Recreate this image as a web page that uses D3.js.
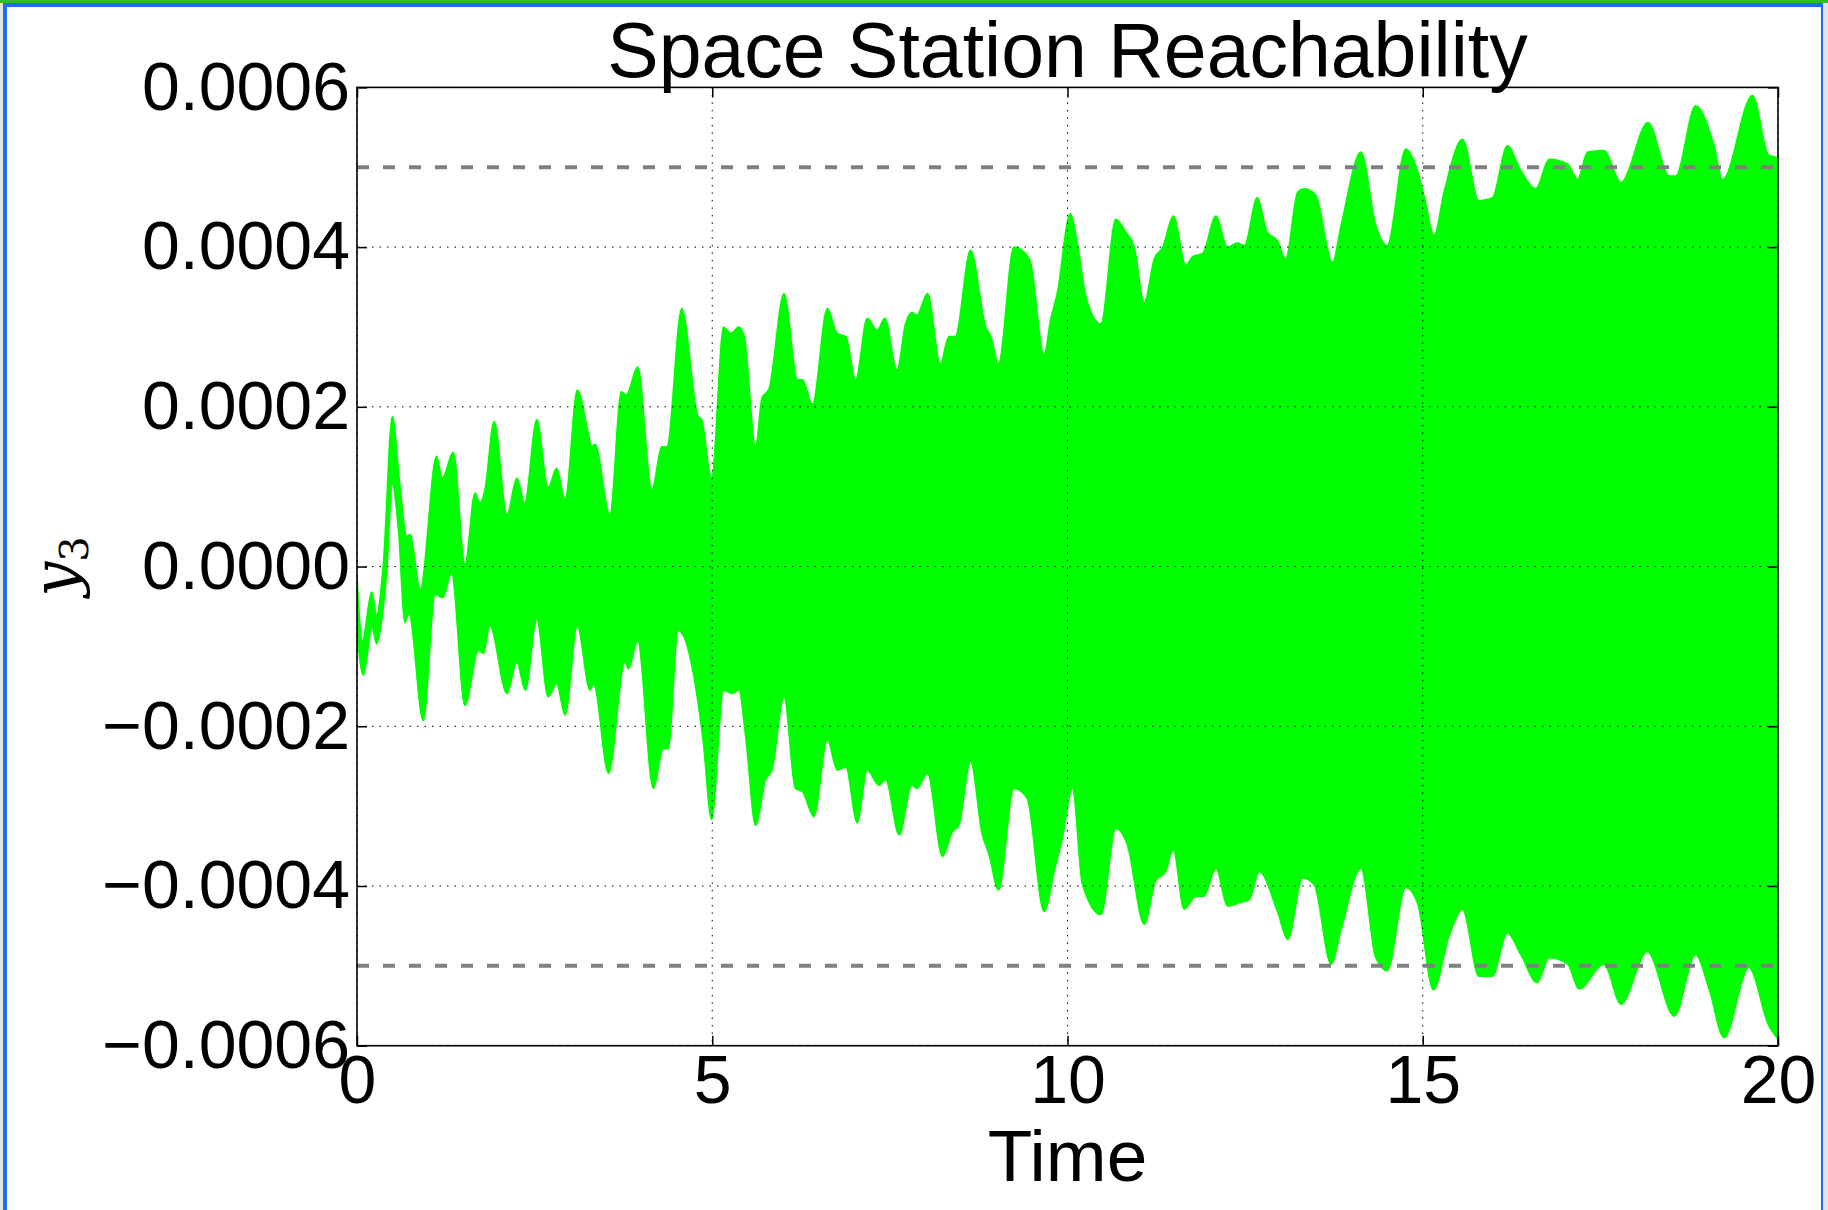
<!DOCTYPE html>
<html><head><meta charset="utf-8">
<script src="https://cdn.jsdelivr.net/npm/d3@7"></script>
<style>
html,body{margin:0;padding:0;background:#fff;overflow:hidden;}
svg{display:block;}
</style></head><body>
<svg id="chart" width="1828" height="1210"></svg>
<script>
// ---------- data ----------
const chartTitle = "Space Station Reachability";
const xLabel = "Time";
const xTicks = [0, 5, 10, 15, 20];
const xTickLabels = ["0", "5", "10", "15", "20"];
const yTicks = [-0.0006, -0.0004, -0.0002, 0, 0.0002, 0.0004, 0.0006];
const yTickLabels = ["\u22120.0006", "\u22120.0004", "\u22120.0002", "0.0000", "0.0002", "0.0004", "0.0006"];
const limitLines = [0.0005, -0.0005];
const xDomain = [0, 20];
const yDomain = [-0.0006, 0.0006];

// upper envelope of the reachable set: [time, y3]
const upperEnvelope = [
 [0,-0.12e-4],[0.075,-0.93e-4],[0.206,-0.32e-4],[0.277,-0.6e-4],[0.37,0.03e-4],[0.497,1.88e-4],
 [0.605,1.01e-4],[0.70,0.38e-4],[0.746,0.40e-4],[0.89,-0.28e-4],[1.12,1.38e-4],[1.20,1.11e-4],
 [1.355,1.43e-4],[1.52,0.03e-4],[1.66,0.92e-4],[1.73,0.80e-4],[1.80,0.96e-4],[1.93,1.82e-4],
 [2.11,0.65e-4],[2.25,1.11e-4],[2.36,0.80e-4],[2.53,1.84e-4],[2.69,0.99e-4],[2.81,1.23e-4],
 [2.93,0.84e-4],[3.10,2.21e-4],[3.26,1.65e-4],[3.30,1.50e-4],[3.35,1.53e-4],[3.56,0.65e-4],
 [3.72,2.19e-4],[3.79,2.15e-4],[3.95,2.50e-4],[4.15,0.96e-4],[4.29,1.50e-4],[4.36,1.50e-4],
 [4.57,3.23e-4],[4.80,1.88e-4],[4.85,1.84e-4],[4.99,1.10e-4],[5.16,3.00e-4],[5.26,2.92e-4],
 [5.375,3.00e-4],[5.45,2.88e-4],[5.61,1.50e-4],[5.70,2.11e-4],[5.80,2.23e-4],[6.01,3.42e-4],
 [6.20,2.34e-4],[6.27,2.34e-4],[6.41,2.03e-4],[6.62,3.23e-4],[6.76,2.92e-4],[6.88,2.88e-4],
 [7.02,2.34e-4],[7.18,3.11e-4],[7.32,2.96e-4],[7.43,3.11e-4],[7.60,2.46e-4],[7.72,3.04e-4],
 [7.81,3.18e-4],[7.88,3.15e-4],[8.03,3.42e-4],[8.21,2.54e-4],[8.33,2.88e-4],[8.42,2.88e-4],
 [8.635,3.96e-4],[8.85,3.00e-4],[8.92,2.88e-4],[9.03,2.54e-4],[9.245,4.00e-4],[9.41,3.92e-4],
 [9.48,3.81e-4],[9.67,2.65e-4],[9.76,3.08e-4],[9.855,3.42e-4],[10.04,4.42e-4],[10.14,4.04e-4],
 [10.26,3.38e-4],[10.47,3.04e-4],[10.68,4.35e-4],[10.82,4.19e-4],[10.94,4.00e-4],[11.08,3.31e-4],
 [11.22,3.85e-4],[11.34,4.00e-4],[11.49,4.39e-4],[11.665,3.77e-4],[11.76,3.88e-4],[11.90,3.92e-4],
 [12.09,4.39e-4],[12.25,4.00e-4],[12.39,4.05e-4],[12.49,4.02e-4],[12.67,4.62e-4],[12.81,4.19e-4],
 [12.955,4.08e-4],[13.07,3.85e-4],[13.24,4.69e-4],[13.33,4.73e-4],[13.49,4.66e-4],[13.73,3.81e-4],
 [13.85,4.27e-4],[14.13,5.19e-4],[14.34,4.27e-4],[14.50,4.02e-4],[14.76,5.23e-4],[14.925,4.96e-4],
 [15.03,4.60e-4],[15.16,4.15e-4],[15.30,4.69e-4],[15.56,5.35e-4],[15.79,4.58e-4],[15.98,4.62e-4],
 [16.19,5.27e-4],[16.38,4.96e-4],[16.59,4.73e-4],[16.78,5.10e-4],[17.04,5.04e-4],[17.18,4.85e-4],
 [17.32,5.19e-4],[17.55,5.21e-4],[17.79,4.81e-4],[18.17,5.56e-4],[18.47,4.89e-4],[18.56,4.89e-4],
 [18.84,5.77e-4],[19.10,5.27e-4],[19.22,4.85e-4],[19.64,5.90e-4],[19.87,5.15e-4],[20.0,5.12e-4]
];

// lower envelope of the reachable set: [time, y3]
const lowerEnvelope = [
 [0,-0.85e-4],[0.089,-1.36e-4],[0.16,-1.01e-4],[0.206,-0.74e-4],[0.277,-0.97e-4],[0.35,-0.66e-4],
 [0.42,-0.05e-4],[0.497,1.03e-4],[0.58,0.49e-4],[0.675,-0.70e-4],[0.73,-0.59e-4],[0.933,-1.93e-4],
 [1.10,-0.35e-4],[1.21,-0.39e-4],[1.33,-0.08e-4],[1.52,-1.74e-4],[1.71,-1.05e-4],[1.78,-1.09e-4],
 [1.87,-0.74e-4],[2.11,-1.59e-4],[2.25,-1.20e-4],[2.37,-1.55e-4],[2.53,-0.66e-4],[2.69,-1.63e-4],
 [2.81,-1.47e-4],[2.93,-1.86e-4],[3.10,-0.74e-4],[3.28,-1.55e-4],[3.33,-1.47e-4],[3.54,-2.59e-4],
 [3.77,-1.20e-4],[3.82,-1.28e-4],[3.95,-0.93e-4],[4.17,-2.78e-4],[4.31,-2.28e-4],[4.38,-2.28e-4],
 [4.52,-0.80e-4],[4.87,-2.17e-4],[4.99,-3.17e-4],[5.16,-1.55e-4],[5.28,-1.59e-4],[5.375,-1.55e-4],
 [5.47,-2.13e-4],[5.61,-3.24e-4],[5.75,-2.67e-4],[5.84,-2.55e-4],[6.01,-1.63e-4],[6.17,-2.78e-4],
 [6.27,-2.82e-4],[6.43,-3.13e-4],[6.62,-2.17e-4],[6.76,-2.55e-4],[6.88,-2.51e-4],[7.04,-3.21e-4],
 [7.18,-2.55e-4],[7.35,-2.74e-4],[7.44,-2.67e-4],[7.63,-3.36e-4],[7.81,-2.74e-4],[7.88,-2.78e-4],
 [8.03,-2.59e-4],[8.24,-3.63e-4],[8.38,-3.32e-4],[8.47,-3.24e-4],[8.635,-2.44e-4],[8.80,-3.36e-4],
 [8.89,-3.59e-4],[9.03,-4.05e-4],[9.245,-2.78e-4],[9.43,-2.90e-4],[9.67,-4.32e-4],[9.83,-3.75e-4],
 [9.92,-3.44e-4],[10.07,-2.78e-4],[10.21,-3.98e-4],[10.47,-4.36e-4],[10.68,-3.28e-4],[10.84,-3.48e-4],
 [11.08,-4.48e-4],[11.24,-3.94e-4],[11.38,-3.82e-4],[11.49,-3.55e-4],[11.64,-4.29e-4],[11.81,-4.13e-4],
 [11.92,-4.13e-4],[12.09,-3.78e-4],[12.25,-4.25e-4],[12.42,-4.21e-4],[12.56,-4.17e-4],[12.70,-3.82e-4],
 [12.955,-4.32e-4],[13.10,-4.67e-4],[13.31,-3.90e-4],[13.47,-3.98e-4],[13.71,-4.98e-4],[13.85,-4.55e-4],
 [14.13,-3.78e-4],[14.34,-4.90e-4],[14.50,-5.06e-4],[14.76,-4.02e-4],[14.925,-4.21e-4],[15.15,-5.30e-4],
 [15.37,-4.63e-4],[15.56,-4.29e-4],[15.79,-5.13e-4],[15.98,-5.13e-4],[16.19,-4.59e-4],[16.38,-4.86e-4],
 [16.61,-5.21e-4],[16.78,-4.90e-4],[17.04,-4.98e-4],[17.20,-5.29e-4],[17.55,-4.98e-4],[17.79,-5.48e-4],
 [18.16,-4.82e-4],[18.54,-5.63e-4],[18.84,-4.86e-4],[19.03,-5.29e-4],[19.24,-5.90e-4],[19.59,-5.02e-4],
 [19.87,-5.75e-4],[20.0,-5.92e-4]
];

// ---------- layout ----------
const W = 1828, H = 1210;
const plot = {left: 357, right: 1778, top: 87.4, bottom: 1045.7};
const FONT = "'Liberation Sans', Arial, Helvetica, sans-serif";

const svg = d3.select("#chart");

// window frame
svg.append("rect").attr("x",0).attr("y",0).attr("width",4).attr("height",H).attr("fill","#e4e4e4");
svg.append("rect").attr("x",W-5).attr("y",0).attr("width",5).attr("height",H).attr("fill","#e4e4e4");
svg.append("rect").attr("x",0).attr("y",0).attr("width",W).attr("height",3).attr("fill","#33bb2e");
svg.append("rect").attr("x",3).attr("y",3).attr("width",W-8).attr("height",4).attr("fill","#1a6dff");
svg.append("rect").attr("x",3).attr("y",3).attr("width",4).attr("height",H-3).attr("fill","#1a6dff");
svg.append("rect").attr("x",W-7).attr("y",3).attr("width",2).attr("height",H-3).attr("fill","#1a6dff");

const x = d3.scaleLinear().domain(xDomain).range([plot.left, plot.right]);
const y = d3.scaleLinear().domain(yDomain).range([plot.bottom, plot.top]);

svg.append("defs").append("clipPath").attr("id","clip")
  .append("rect").attr("x",plot.left).attr("y",plot.top)
  .attr("width",plot.right-plot.left).attr("height",plot.bottom-plot.top);

// reachable band: upper envelope forward, lower envelope back
const line = d3.line().x(d => x(d[0])).y(d => y(d[1])).curve(d3.curveMonotoneX);
const upPath = line(upperEnvelope);
const lowPath = line(lowerEnvelope.slice().reverse());
svg.append("path")
  .attr("clip-path","url(#clip)")
  .attr("d", upPath + "L" + lowPath.slice(1) + "Z")
  .attr("fill","#00ff00").attr("stroke","#00ff00").attr("stroke-width",1.5)
  .attr("stroke-linejoin","round");

// grid
const grid = svg.append("g");
grid.selectAll(".gx").data(xTicks).join("line")
  .attr("x1",d=>x(d)).attr("x2",d=>x(d)).attr("y1",plot.top).attr("y2",plot.bottom)
  .attr("stroke","#000").attr("stroke-width",1).attr("stroke-dasharray","1.5,6");
grid.selectAll(".gy").data(yTicks).join("line")
  .attr("y1",d=>y(d)).attr("y2",d=>y(d)).attr("x1",plot.left).attr("x2",plot.right)
  .attr("stroke","#000").attr("stroke-width",1).attr("stroke-dasharray","1.5,6");

// limit lines
svg.selectAll(".lim").data(limitLines).join("line")
  .attr("x1",plot.left).attr("x2",plot.right).attr("y1",d=>y(d)).attr("y2",d=>y(d))
  .attr("stroke","#808080").attr("stroke-width",4).attr("stroke-dasharray","12,14");

// axes (ticks inward on all four sides)
function styleAxis(g){
  g.select(".domain").remove();
  g.selectAll(".tick line").attr("stroke","#000").attr("stroke-width",1.5);
  g.selectAll(".tick text").attr("font-family",FONT).attr("font-size",68).attr("fill","#000");
}
svg.append("g").attr("transform",`translate(0,${plot.bottom})`)
  .call(d3.axisBottom(x).tickValues(xTicks).tickSize(-10).tickPadding(9)
    .tickFormat((d,i)=>xTickLabels[i])).call(styleAxis);
svg.append("g").attr("transform",`translate(0,${plot.top})`)
  .call(d3.axisTop(x).tickValues(xTicks).tickSize(-10).tickFormat("")).call(styleAxis);
svg.append("g").attr("transform",`translate(${plot.left},0)`)
  .call(d3.axisLeft(y).tickValues(yTicks).tickSize(-10).tickPadding(7)
    .tickFormat((d,i)=>yTickLabels[i])).call(styleAxis);
svg.append("g").attr("transform",`translate(${plot.right},0)`)
  .call(d3.axisRight(y).tickValues(yTicks).tickSize(-10).tickFormat("")).call(styleAxis);

// spines
svg.append("rect").attr("x",plot.left).attr("y",plot.top)
  .attr("width",plot.right-plot.left).attr("height",plot.bottom-plot.top)
  .attr("fill","none").attr("stroke","#000").attr("stroke-width",1.6);

// title and labels
svg.append("text").attr("x",(plot.left+plot.right)/2).attr("y",77)
  .attr("text-anchor","middle").attr("font-family",FONT).attr("font-size",77)
  .text(chartTitle);
svg.append("text").attr("x",(plot.left+plot.right)/2).attr("y",1181)
  .attr("text-anchor","middle").attr("font-family",FONT).attr("font-size",73)
  .text(xLabel);
const yl = svg.append("text")
  .attr("transform",`translate(76,${y(0)}) rotate(-90)`)
  .attr("text-anchor","middle").attr("font-family","'DejaVu Serif', 'Liberation Serif', serif");
yl.append("tspan").attr("font-style","italic").attr("font-size",62).text("y");
yl.append("tspan").attr("font-size",40).attr("dy",12).text("3");
</script>
</body></html>
